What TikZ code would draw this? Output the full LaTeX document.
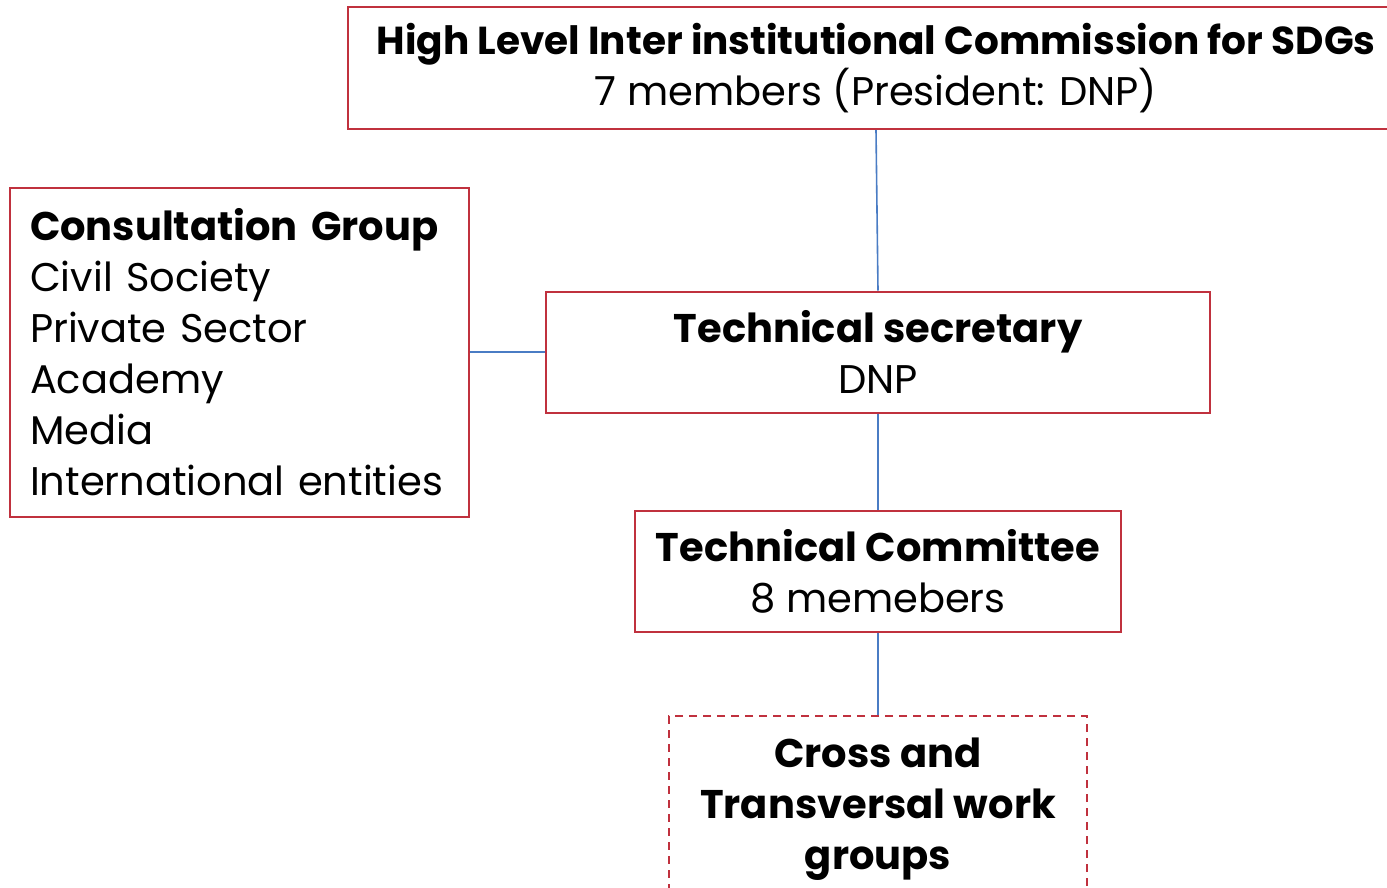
\documentclass[tikz,border=0pt]{standalone}
\usepackage{fontspec}
\setmainfont{Poppins}
\definecolor{boxred}{HTML}{C0313E}
\definecolor{linkblue}{HTML}{4A7CC4}
\begin{document}
\begin{tikzpicture}[x=1pt,y=-1pt,
		box/.style={draw=boxred,line width=2pt,align=center,inner sep=0pt,
			font=\fontsize{40}{51}\selectfont},
		link/.style={draw=linkblue,line width=1.6pt}]
	\useasboundingbox (0,0) rectangle (1387,887);
	\clip (0,0) rectangle (1387,887);
	% boxes
	\node[box,minimum width=1056,minimum height=122] (hlc) at (876,68)
	{\fontsize{39}{51}\selectfont\textbf{High Level Inter institutional Commission for SDGs}\\7 members (President: DNP)};
	\node[box,minimum width=459,minimum height=329,align=left,text width=419] (cons) at (239.5,352)
	{\textbf{Consultation Group}\\Civil Society\\Private Sector\\Academy\\Media\\International entities};
	\node[box,minimum width=664,minimum height=121] (sec) at (878,352)
	{\textbf{Technical secretary}\\DNP};
	\node[box,minimum width=486,minimum height=121] (tcom) at (878,571.5)
	{\textbf{Technical Committee}\\8 memebers};
	\node[box,dashed,dash pattern=on 8pt off 6pt,minimum width=418,minimum height=186] (wg) at (878,809)
	{\textbf{Cross and}\\\textbf{Transversal work}\\\textbf{groups}};
	% links
	\draw[link] (hlc.south) -- (sec.north);
	\draw[link] (cons.east) -- (sec.west);
	\draw[link] (sec.south) -- (tcom.north);
	\draw[link] (tcom.south) -- (wg.north);
\end{tikzpicture}
\end{document}
